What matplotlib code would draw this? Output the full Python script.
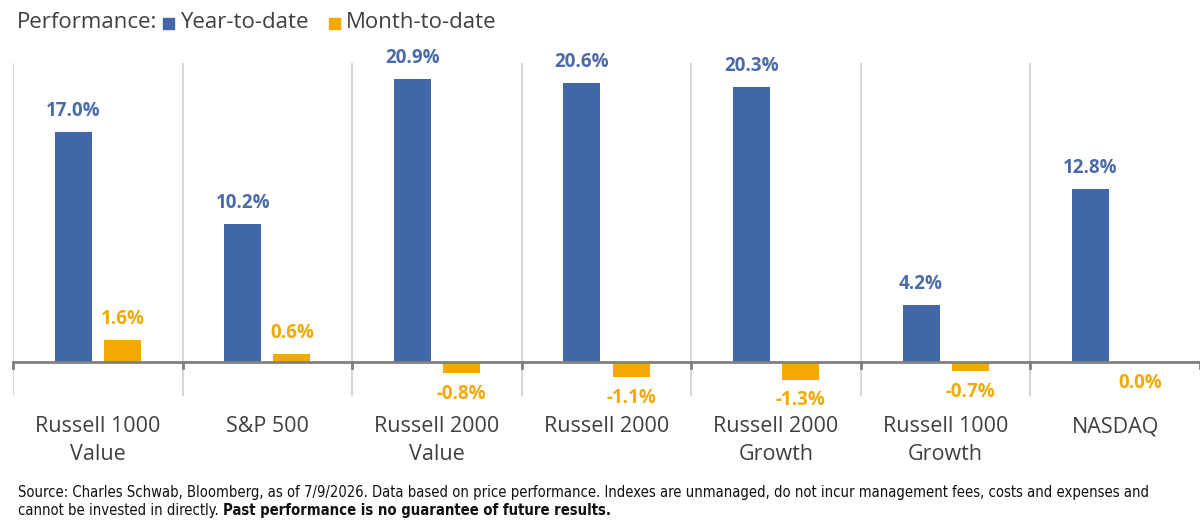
import matplotlib
matplotlib.use("Agg")
import matplotlib.pyplot as plt
import matplotlib.transforms as mtransforms
from matplotlib.patches import Rectangle

plt.rcParams['font.family'] = ['Open Sans', 'DejaVu Sans']

categories = ["Russell 1000\nValue", "S&P 500", "Russell 2000\nValue", "Russell 2000",
              "Russell 2000\nGrowth", "Russell 1000\nGrowth", "NASDAQ"]
ytd = [17.0, 10.2, 20.9, 20.6, 20.3, 4.2, 12.8]
mtd = [1.6, 0.6, -0.8, -1.1, -1.3, -0.7, 0.0]
series_names = ["Year-to-date", "Month-to-date"]

blue = "#4267A9"
orange = "#F5A800"
blue_txt = "#4A6BA8"
orange_txt = "#F2A900"
gray_txt = "#404040"

W, H = 1200, 529
fig = plt.figure(figsize=(W / 100, H / 100), dpi=100)
ax = fig.add_axes([13 / W, 1 - 396 / H, 1 - 13 / W, (396 - 62.7) / H])

x = list(range(len(categories)))
off = 0.145
bw = 0.218
ax.bar([i - off for i in x], ytd, width=bw, color=blue, zorder=3)
ax.bar([i + off for i in x], mtd, width=bw, color=orange, zorder=3)

for i in x:
    v = ytd[i]
    ax.annotate(f"{v:.1f}%", (i - off, v), xytext=(0, 15 if v >= 0 else -15),
                textcoords="offset points", ha="center", va="center",
                fontsize=13.5, fontweight="bold", color=blue_txt)
    m = mtd[i]
    ax.annotate(f"{m:.1f}%", (i + off, m), xytext=(0, 15 if m > 0 else -15),
                textcoords="offset points", ha="center", va="center",
                fontsize=13.5, fontweight="bold", color=orange_txt)

ax.set_xlim(-0.5, len(categories) - 0.5)
ax.set_ylim(-2.51, 22.09)

# vertical separators between categories
for b in range(len(categories)):
    ax.axvline(b - 0.5, color="#D3D3D3", lw=1.3, zorder=1)

# zero axis with downward ticks at category boundaries
ax.axhline(0, color="#808080", lw=2, zorder=4)
for b in range(len(categories) + 1):
    ax.plot([b - 0.5, b - 0.5], [0, -0.45], color="#808080", lw=2, zorder=4,
            clip_on=False)

for s in ax.spines.values():
    s.set_visible(False)
ax.set_xticks([])
ax.set_yticks([])

# category labels
trans = mtransforms.blended_transform_factory(ax.transData, fig.transFigure)
for i, lab in enumerate(categories):
    for k, line in enumerate(lab.split("\n")):
        ax.text(i, 1 - (432 + 28 * k) / H, line, transform=trans, ha="center",
                va="baseline", fontsize=15.5, color=gray_txt)

# legend line
fig.canvas.draw()
r = fig.canvas.get_renderer()
ly = 1 - 23 / H
t = fig.text(17 / W, ly, "Performance:", fontsize=16, color=gray_txt, va="center")
xpos = t.get_window_extent(r).x1 + 6
for name, col in zip(series_names, [blue, orange]):
    fig.patches.append(Rectangle((xpos / W, 1 - 29 / H), 11 / W, 11 / H,
                                 transform=fig.transFigure, color=col))
    t = fig.text((xpos + 17) / W, ly, name, fontsize=16, color=gray_txt, va="center")
    xpos = t.get_window_extent(r).x1 + 20

# source note (condensed face, sized to the reference line width)
src_kw = dict(family='DejaVu Sans', fontstretch='condensed', color="#111111",
              va="center")
line1 = fig.text(18 / W, 1 - 492 / H,
                 "Source: Charles Schwab, Bloomberg, as of 7/9/2026. Data based on price "
                 "performance. Indexes are unmanaged, do not incur management fees, "
                 "costs and expenses and", fontsize=10, **src_kw)
w = line1.get_window_extent(r).width
fs = 10 * 1134 / w
line1.set_fontsize(fs)
t = fig.text(18 / W, 1 - 511 / H, "cannot be invested in directly. ", fontsize=fs, **src_kw)
x1 = t.get_window_extent(r).x1
fig.text(x1 / W, 1 - 511 / H, "Past performance is no guarantee of future results.",
         fontsize=fs, fontweight="bold", **src_kw)

fig.savefig("out.png", dpi=100)
